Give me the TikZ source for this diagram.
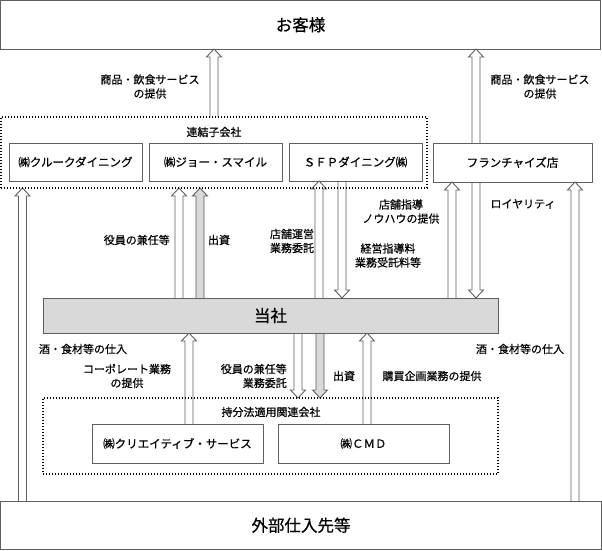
\documentclass[tikz,border=0pt]{standalone}
\usepackage{fontspec}
\setmainfont{Noto Sans CJK JP}[FakeBold=0.6]
\usetikzlibrary{calc}
\definecolor{framegray}{HTML}{5F5F5F}
\definecolor{boxgray}{HTML}{D9D9D9}
\pgfdeclarelayer{background}
\pgfsetlayers{background,main}

\newcommand{\flowarrow}[3][white]{%
    \coordinate (arr-s) at (#2);
    \coordinate (arr-t) at (#3);
    \coordinate (arr-c) at ($(arr-t)!8pt!(arr-s)$);
    \coordinate (arr-1) at ($(arr-s)!4pt!90:(arr-t)$);
    \coordinate (arr-2) at ($(arr-c)!4pt!90:(arr-t)$);
    \coordinate (arr-3) at ($(arr-c)!7.5pt!90:(arr-t)$);
    \coordinate (arr-4) at ($(arr-c)!7.5pt!-90:(arr-t)$);
    \coordinate (arr-5) at ($(arr-c)!4pt!-90:(arr-t)$);
    \coordinate (arr-6) at ($(arr-s)!4pt!-90:(arr-t)$);
    \fill[#1] (arr-1) -- (arr-2) -- (arr-3) -- (arr-t) -- (arr-4) -- (arr-5) -- (arr-6) -- cycle;
    \draw[color=framegray, line width=0.9pt, line join=miter] (arr-1) -- (arr-2) -- (arr-3) -- (arr-t) -- (arr-4) -- (arr-5) -- (arr-6);
}

\begin{document}
\begin{tikzpicture}[x=1pt, y=-1pt,
    bigbox/.style={draw=framegray, line width=0.9pt, inner sep=0pt, outer sep=0pt, font=\fontsize{16.5}{20}\selectfont},
    firmbox/.style={draw=framegray, line width=0.9pt, inner sep=0pt, outer sep=0pt, minimum height=38pt, font=\fontsize{11.5}{14}\selectfont},
    groupbox/.style={draw=black, line width=1.1pt, dash pattern=on 1.4pt off 1.6pt, inner sep=0pt, outer sep=0pt},
    note/.style={font=\fontsize{11}{14}\selectfont, align=center, inner sep=0pt}]
    \useasboundingbox (0, 0) rectangle (602, 551);

    \node[bigbox, minimum width=600pt, minimum height=48.5pt] (customer) at (300.5, 24.75) {お客様};
    \node[bigbox, minimum width=601pt, minimum height=48.5pt] (supplier) at (301, 525.25) {外部仕入先等};
    \node[bigbox, fill=boxgray, minimum width=455pt, minimum height=35pt] (company) at (270.5, 315.5) {当社};

    \node[groupbox, minimum width=426pt, minimum height=71pt] (subs) at (214, 152.5) {};
    \node[note] at (214, 132) {連結子会社};
    \node[firmbox, minimum width=133pt] (crew) at (75.5, 162) {㈱クルークダイニング};
    \node[firmbox, minimum width=133pt] (joe) at (215.5, 162) {㈱ジョー・スマイル};
    \node[firmbox, minimum width=133pt] (sfp) at (355.5, 162) {ＳＦＰダイニング㈱};
    \node[firmbox, minimum width=159pt, minimum height=39pt] (franchise) at (512.5, 162.5) {フランチャイズ店};

    \node[groupbox, minimum width=455pt, minimum height=76pt] (affil) at (270.5, 436) {};
    \node[note] at (271, 412) {持分法適用関連会社};
    \node[firmbox, minimum width=171pt, minimum height=39pt] (creative) at (177.5, 443.5) {㈱クリエイティブ・サービス};
    \node[firmbox, minimum width=171pt, minimum height=39pt] (cmd) at (363.5, 443.5) {㈱ＣＭＤ};

    \begin{pgfonlayer}{background}
        \flowarrow{subs.north -| 214,0}{customer.south -| 214,0}
        \flowarrow{franchise.north -| 476,0}{customer.south -| 476,0}
        \flowarrow{supplier.north -| 22.5,0}{subs.south -| 22.5,0}
        \flowarrow{supplier.north -| 575,0}{franchise.south -| 575,0}
        \flowarrow{company.north -| 179,0}{subs.south -| 179,0}
        \flowarrow[boxgray]{company.north -| 200,0}{subs.south -| 200,0}
        \flowarrow{company.north -| 319,0}{sfp.south -| 319,0}
        \flowarrow{sfp.south -| 342,0}{company.north -| 342,0}
        \flowarrow{company.north -| 452,0}{franchise.south -| 452,0}
        \flowarrow{franchise.south -| 476,0}{company.north -| 476,0}
        \flowarrow{creative.north -| 189,0}{company.south -| 189,0}
        \flowarrow{company.south -| 298,0}{affil.north -| 298,0}
        \flowarrow[boxgray]{company.south -| 320,0}{affil.north -| 320,0}
        \flowarrow{cmd.north -| 367,0}{company.south -| 367,0}
    \end{pgfonlayer}

    \node[note] at (150, 86.5) {商品・飲食サービス\\の提供};
    \node[note] at (540, 86.5) {商品・飲食サービス\\の提供};
    \node[note, anchor=east] at (170, 240) {役員の兼任等};
    \node[note] at (219, 240) {出資};
    \node[note] at (292, 241) {店舗運営\\業務委託};
    \node[note] at (401, 211.5) {店舗指導\\ノウハウの提供};
    \node[note] at (388, 255.5) {経営指導料\\業務受託料等};
    \node[note] at (523, 204) {ロイヤリティ};

    \node[note] at (83, 349) {酒・食材等の仕入};
    \node[note] at (520, 349) {酒・食材等の仕入};
    \node[note] at (127, 376) {コーポレート業務\\の提供};
    \node[note, anchor=east, align=right] at (287, 376) {役員の兼任等\\業務委託};
    \node[note] at (344, 376) {出資};
    \node[note] at (432, 376) {購買企画業務の提供};
\end{tikzpicture}
\end{document}
